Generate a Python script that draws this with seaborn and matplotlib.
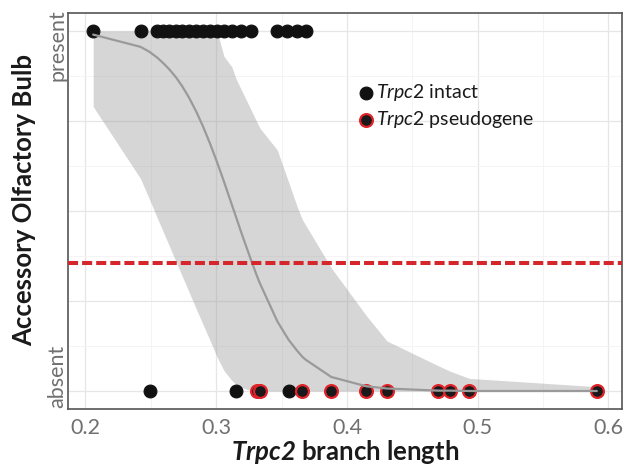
import numpy as np
import pandas as pd
import matplotlib
matplotlib.use("Agg")
import matplotlib.pyplot as plt
import seaborn as sns

# ---- data ----
present_intact = [0.2059, 0.2421, 0.2549, 0.2594, 0.2640, 0.2693, 0.2739, 0.2792,
                  0.2846, 0.2899, 0.2952, 0.3006, 0.3059, 0.3120, 0.3189, 0.3265,
                  0.3468, 0.3544, 0.3621, 0.3684]
absent_intact = [0.2490, 0.3153, 0.3554]
absent_pseudo = [0.3310, 0.3333, 0.3659, 0.3880, 0.4149, 0.4306, 0.4699,
                 0.4789, 0.4936, 0.5911]

# fitted smooth and its confidence band, read at each data x
smooth_x = [0.2059, 0.2421, 0.2490, 0.2549, 0.2594, 0.2640, 0.2693, 0.2739, 0.2792,
            0.2846, 0.2899, 0.2952, 0.3006, 0.3059, 0.3120, 0.3153, 0.3189, 0.3265,
            0.3310, 0.3333, 0.3468, 0.3544, 0.3554, 0.3621, 0.3659, 0.3684, 0.3880,
            0.4149, 0.4306, 0.4699, 0.4789, 0.4936, 0.5911]
smooth_fit = [0.990, 0.956, 0.942, 0.926, 0.911, 0.894, 0.871, 0.847, 0.815,
              0.777, 0.735, 0.688, 0.636, 0.582, 0.517, 0.482, 0.443, 0.365,
              0.321, 0.300, 0.193, 0.148, 0.142, 0.111, 0.095, 0.087, 0.039,
              0.013, 0.007, 0.001, 0.001, 0.000, 0.000]
smooth_lo = [0.790, 0.590, 0.532, 0.481, 0.443, 0.404, 0.359, 0.320, 0.275,
             0.229, 0.185, 0.141, 0.095, 0.057, 0.029, 0.018, 0.010, 0.002,
             0.000, 0.000, 0.000, 0.000, 0.000, 0.000, 0.000, 0.000, 0.000,
             0.000, 0.000, 0.000, 0.000, 0.000, 0.000]
smooth_hi = [1.000, 1.000, 1.000, 1.000, 1.000, 1.000, 1.000, 1.000, 1.000,
             1.000, 1.000, 1.000, 1.000, 0.930, 0.900, 0.866, 0.839, 0.782,
             0.748, 0.731, 0.669, 0.590, 0.580, 0.510, 0.476, 0.461, 0.342,
             0.209, 0.139, 0.070, 0.055, 0.035, 0.012]

threshold = 0.3556
y_tick_vals = [0, 0.25, 0.5, 0.75, 1]
y_label_text = {"absent": 0.042, "present": 0.961}
x_tick_vals = [0.2, 0.3, 0.4, 0.5, 0.6]
labels = {"intact": r"$\mathit{Trpc2}$ intact", "pseudo": r"$\mathit{Trpc2}$ pseudogene"}

df = pd.DataFrame({
    "x": present_intact + absent_intact + absent_pseudo,
    "y": [1] * len(present_intact) + [0] * len(absent_intact) + [0] * len(absent_pseudo),
    "status": ["intact"] * (len(present_intact) + len(absent_intact)) + ["pseudo"] * len(absent_pseudo),
})
fit = pd.DataFrame({"x": smooth_x, "fit": smooth_fit, "lo": smooth_lo, "hi": smooth_hi})

# ---- style ----
sns.set_style("white")
plt.rcParams["font.family"] = ["Lato", "DejaVu Sans"]
plt.rcParams["mathtext.fontset"] = "custom"
plt.rcParams["mathtext.it"] = "Lato:italic"
plt.rcParams["mathtext.rm"] = "Lato"
plt.rcParams["mathtext.bfit"] = "Lato:italic:bold"

fig = plt.figure(figsize=(6.31, 4.65), dpi=100)
ax = fig.add_axes([68 / 631, 1 - 409 / 465, 554 / 631, 396 / 465])

ax.fill_between(fit["x"], fit["lo"], fit["hi"], color="#999999", alpha=0.4, lw=0, zorder=2)

sns.scatterplot(data=df[df.status == "intact"], x="x", y="y", color="#111111", s=85,
                edgecolor="#111111", linewidth=0.8, ax=ax, zorder=3, label=labels["intact"])
sns.scatterplot(data=df[df.status == "pseudo"], x="x", y="y", color="#1a1a1a", s=85,
                edgecolor="#e0242a", linewidth=1.6, ax=ax, zorder=3, label=labels["pseudo"])
sns.lineplot(data=fit, x="x", y="fit", color="#9a9a9a", lw=1.6, ax=ax, zorder=4)
ax.axhline(threshold, color="#d4262b", lw=2.9, dashes=(2.5, 1.0), zorder=5)

rng = max(df.x) - min(df.x)
ax.set_xlim(min(df.x) - 0.05 * rng, max(df.x) + 0.05 * rng)
ax.set_ylim(-0.05, 1.05)

ax.set_xticks(x_tick_vals)
ax.set_xticklabels([f"{v:.1f}" for v in x_tick_vals])
ax.set_xticks([v + 0.05 for v in x_tick_vals[:-1]], minor=True)
ax.set_yticks(y_tick_vals)
ax.set_yticklabels([])
ax.set_yticks([v + 0.125 for v in y_tick_vals[:-1]], minor=True)

# y category labels (rotated, kept inside the panel height as in the reference)
ytrans = ax.get_yaxis_transform()
for txt, yy in y_label_text.items():
    ax.text(-0.0195, yy, txt, transform=ytrans, rotation=90, ha="center", va="center",
            fontsize=15.5, color="#707070", clip_on=False)

ax.grid(True, which="major", color="#e6e6e6", lw=0.9)
ax.grid(True, which="minor", color="#f3f3f3", lw=0.6)
ax.set_axisbelow(True)
for s in ax.spines.values():
    s.set_color("#555555")
    s.set_linewidth(1.2)
ax.tick_params(axis="both", which="major", length=3.5, width=0.9, color="#555555",
               labelsize=15.5, labelcolor="#707070", pad=3)
ax.tick_params(axis="both", which="minor", length=0)

ax.set_xlabel(r"$\mathbfit{Trpc2}$ branch length", fontsize=18.5, fontweight="bold",
              color="#1a1a1a")
ax.set_ylabel("Accessory Olfactory Bulb", fontsize=18.5, fontweight="bold",
              color="#1a1a1a")
ax.xaxis.set_label_coords(0.5, -0.074)
ax.yaxis.set_label_coords(-0.058, 0.528)

leg = ax.legend(loc="upper left", bbox_to_anchor=(0.503, 0.85), frameon=False,
                fontsize=14, handletextpad=0.0, borderpad=0, labelspacing=0.3,
                handlelength=1.0, markerscale=1.0)
for t in leg.get_texts():
    t.set_color("#1a1a1a")

fig.savefig("out.png", dpi=100)
